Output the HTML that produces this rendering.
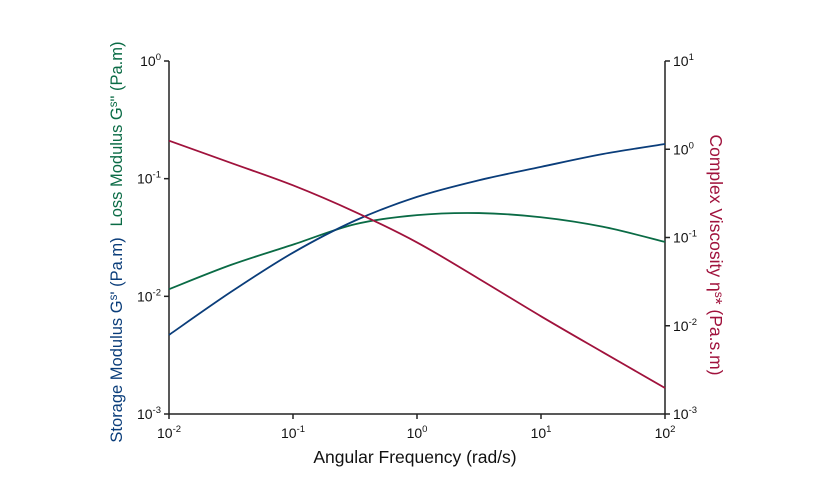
<!DOCTYPE html>
<html><head><meta charset="utf-8"><style>
body{margin:0;background:#fff}
svg{font-family:"Liberation Sans",Arial,sans-serif}
</style></head><body>
<svg id="chart" width="830" height="493"></svg>
<script>
const freqExp=[-2,-1.5,-1,-0.5,0,0.5,1,1.5,2];
const storageG=[0.0047,0.0109,0.0235,0.044,0.07,0.097,0.126,0.162,0.197];
const lossG=[0.0115,0.0185,0.0275,0.041,0.049,0.051,0.047,0.039,0.029];
const viscosity=[1.25,0.70,0.39,0.195,0.088,0.034,0.0128,0.005,0.00197];
const xTicks=[-2,-1,0,1,2];
const leftTicks=[-3,-2,-1,0];
const rightTicks=[-3,-2,-1,0,1];

const NS="http://www.w3.org/2000/svg";
const svg=document.getElementById('chart');
const L=169,R=665,T=61,B=414;
const xs=e=>L+(e+2)/4*(R-L);
const yl=v=>B-(Math.log10(v)+3)/3*(B-T);
const yr=v=>B-(Math.log10(v)+3)/4*(B-T);
function mk(tag,attrs,text){const el=document.createElementNS(NS,tag);for(const k in attrs)el.setAttribute(k,attrs[k]);if(text!==undefined)el.innerHTML=text;svg.appendChild(el);return el;}
function path(pts){let d=`M${pts[0][0]},${pts[0][1]}`;for(let i=0;i<pts.length-1;i++){const p0=pts[Math.max(0,i-1)],p1=pts[i],p2=pts[i+1],p3=pts[Math.min(pts.length-1,i+2)];d+=` C${p1[0]+(p2[0]-p0[0])/6},${p1[1]+(p2[1]-p0[1])/6} ${p2[0]-(p3[0]-p1[0])/6},${p2[1]-(p3[1]-p1[1])/6} ${p2[0]},${p2[1]}`;}return d;}
const ax={stroke:'#222','stroke-width':1.5,fill:'none'};
let e;
e=mk('line',{x1:L,y1:T,x2:L,y2:B,...ax});


e=mk('line',{x1:R,y1:T,x2:R,y2:B,...ax});


e=mk('line',{x1:L,y1:B,x2:R,y2:B,...ax});


xTicks.forEach(t=>{const x=xs(t);mk('line',{x1:x,y1:B,x2:x,y2:B+5,...ax});
e=mk('text',{x:x,y:B+24,'text-anchor':'middle','font-size':14,fill:'#111'},`10<tspan dy="-6" font-size="9.5">${t}</tspan>`);

});
leftTicks.forEach(t=>{const y=yl(Math.pow(10,t));mk('line',{x1:L-5,y1:y,x2:L,y2:y,...ax});
e=mk('text',{x:L-8,y:y+5,'text-anchor':'end','font-size':14,fill:'#111'},`10<tspan dy="-6" font-size="9.5">${t}</tspan>`);

});
rightTicks.forEach(t=>{const y=yr(Math.pow(10,t));mk('line',{x1:R,y1:y,x2:R+5,y2:y,...ax});
e=mk('text',{x:R+8,y:y+5,'text-anchor':'start','font-size':14,fill:'#111'},`10<tspan dy="-6" font-size="9.5">${t}</tspan>`);

});
e=mk('path',{d:path(freqExp.map((f,i)=>[xs(f),yl(lossG[i])])),stroke:'#0a6b45','stroke-width':1.8,fill:'none'});


e=mk('path',{d:path(freqExp.map((f,i)=>[xs(f),yl(storageG[i])])),stroke:'#0a3d7a','stroke-width':1.8,fill:'none'});


e=mk('path',{d:path(freqExp.map((f,i)=>[xs(f),yr(viscosity[i])])),stroke:'#a0123c','stroke-width':1.8,fill:'none'});


e=mk('text',{x:415,y:463,'text-anchor':'middle','font-size':17.5,fill:'#111'},'Angular Frequency (rad/s)');


e=mk('text',{x:0,y:0,'text-anchor':'middle','font-size':16.5,fill:'#0a3d7a',transform:'translate(122,340) rotate(-90)'},'Storage Modulus G<tspan dy="-5" font-size="11.5">s</tspan><tspan dy="5">\' (Pa.m)</tspan>');


e=mk('text',{x:0,y:0,'text-anchor':'middle','font-size':16.5,fill:'#0a6b45',transform:'translate(122,134) rotate(-90)'},'Loss Modulus G<tspan dy="-5" font-size="11.5">s</tspan><tspan dy="5">" (Pa.m)</tspan>');


e=mk('text',{x:0,y:0,'text-anchor':'middle','font-size':17.5,fill:'#a0123c',transform:'translate(710,255) rotate(90)'},'Complex Viscosity η<tspan dy="-5" font-size="12">s</tspan><tspan dy="5">* (Pa.s.m)</tspan>');


</script>
</body></html>
